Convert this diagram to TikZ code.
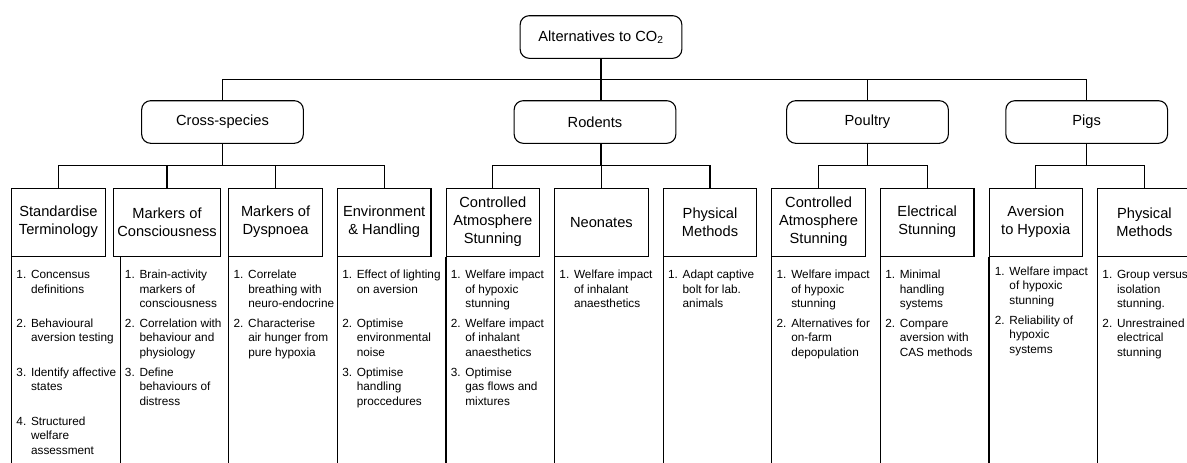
\documentclass[tikz,border=0pt]{standalone}
\usepackage{fontspec}
\setmainfont{Liberation Sans}
\usepackage{tikz}
\usetikzlibrary{calc}

\newcommand{\headfont}{\fontsize{14.65}{18}\selectfont}
\newcommand{\itemfont}{\fontsize{11.8}{14.7}\selectfont}
\newcommand{\itemtxt}[2]{\makebox[14.6pt][l]{#1}\begin{tabular}[t]{@{}l@{}}#2\end{tabular}}

\begin{document}
\begin{tikzpicture}[x=1pt, y=-1pt, line width=1.1pt,
species/.style={draw, rounded corners=9pt, minimum width=161.7pt, minimum height=42.6pt, font=\headfont},
topic/.style={draw, minimum width=93.5pt, minimum height=67.7pt, align=center, inner sep=1pt, font=\headfont},
entry/.style={anchor=base west, inner sep=0pt, font=\itemfont},
elbow/.style={to path={|- ($(\tikztostart)!.5!(\tikztotarget)$) -| (\tikztotarget)}},
]
\useasboundingbox (0,0) rectangle (1187,463);
\clip (0,0) rectangle (1187,463);

\node[species] (root) at (601,37) {Alternatives to CO\textsubscript{2}};

\node[species] (s1) at (222.5,122) {Cross-species};
\node[species] (s2) at (595,122) {Rodents};
\node[species] (s3) at (867.5,122) {Poultry};
\node[species] (s4) at (1086.7,122) {Pigs};

\node[topic] (t1) at (58.4,222.2) {Standardise\\Terminology};
\node[topic, minimum width=106.7pt] (t2) at (167,222.2) {Markers of\\Consciousness};
\node[topic] (t3) at (275.6,222.2) {Markers of\\Dyspnoea};
\node[topic] (t4) at (384.2,222.2) {Environment\\\& Handling};
\node[topic] (t5) at (492.8,222.2) {Controlled\\Atmosphere\\Stunning};
\node[topic] (t6) at (601.4,222.2) {Neonates};
\node[topic] (t7) at (710,222.2) {Physical\\Methods};
\node[topic] (t8) at (818.6,222.2) {Controlled\\Atmosphere\\Stunning};
\node[topic] (t9) at (927.2,222.2) {Electrical\\Stunning};
\node[topic] (t10) at (1035.8,222.2) {Aversion\\to Hypoxia};
\node[topic] (t11) at (1144.4,222.2) {Physical\\Methods};

\path
(root.south) edge[elbow] (s1.north)
(root.south) edge (root.south |- s2.north)
(root.south) edge[elbow] (s3.north)
(root.south) edge[elbow] (s4.north)
(s1.south) edge[elbow] (t1.north)
(s1.south) edge[elbow] (t2.north)
(s1.south) edge[elbow] (t3.north)
(s1.south) edge[elbow] (t4.north)
(s2.south -| root.south) edge[elbow] (t5.north)
(s2.south -| root.south) edge[elbow] (t6.north)
(s2.south -| root.south) edge[elbow] (t7.north)
(s3.south) edge[elbow] (t8.north)
(s3.south) edge[elbow] (t9.north)
(s4.south) edge[elbow] (t10.north)
(s4.south) edge[elbow] (t11.north)
;

% left rules under the topic boxes
\foreach \n/\x in {1/11.7, 2/120.2, 3/228.9, 4/337.5, 5/446, 6/554.7, 7/663.3, 8/771.9, 9/880.5, 10/989, 11/1097.7}{
  \coordinate (l\n) at (\x,463);
  \draw (t\n.south -| l\n) -- (l\n);
}

\node[entry] (e11) at (15.9,278.3) {\itemtxt{1.}{Concensus\\definitions}};
\node[entry] (e12) at (15.9,327.2) {\itemtxt{2.}{Behavioural\\aversion testing}};
\node[entry] (e13) at (15.9,376.1) {\itemtxt{3.}{Identify affective\\states}};
\node[entry] (e14) at (15.9,425) {\itemtxt{4.}{Structured\\welfare\\assessment}};

\node[entry] (e21) at (124.4,278.3) {\itemtxt{1.}{Brain-activity\\markers of\\consciousness}};
\node[entry] (e22) at (124.4,327.2) {\itemtxt{2.}{Correlation with\\behaviour and\\physiology}};
\node[entry] (e23) at (124.4,376.1) {\itemtxt{3.}{Define\\behaviours of\\distress}};

\node[entry] (e31) at (233.1,278.3) {\itemtxt{1.}{Correlate\\breathing with\\neuro-endocrine}};
\node[entry] (e32) at (233.1,327.2) {\itemtxt{2.}{Characterise\\air hunger from\\pure hypoxia}};

\node[entry] (e41) at (341.7,278.3) {\itemtxt{1.}{Effect of lighting\\on aversion}};
\node[entry] (e42) at (341.7,327.2) {\itemtxt{2.}{Optimise\\environmental\\noise}};
\node[entry] (e43) at (341.7,376.1) {\itemtxt{3.}{Optimise\\handling\\proccedures}};

\node[entry] (e51) at (450.2,278.3) {\itemtxt{1.}{Welfare impact\\of hypoxic\\stunning}};
\node[entry] (e52) at (450.2,327.2) {\itemtxt{2.}{Welfare impact\\of inhalant\\anaesthetics}};
\node[entry] (e53) at (450.2,376.1) {\itemtxt{3.}{Optimise\\gas flows and\\mixtures}};

\node[entry] (e61) at (558.9,278.3) {\itemtxt{1.}{Welfare impact\\of inhalant\\anaesthetics}};

\node[entry] (e71) at (667.5,278.3) {\itemtxt{1.}{Adapt captive\\bolt for lab.\\animals}};

\node[entry] (e81) at (776.1,278.3) {\itemtxt{1.}{Welfare impact\\of hypoxic\\stunning}};
\node[entry] (e82) at (776.1,327.2) {\itemtxt{2.}{Alternatives for\\on-farm\\depopulation}};

\node[entry] (e91) at (884.7,278.3) {\itemtxt{1.}{Minimal\\handling\\systems}};
\node[entry] (e92) at (884.7,327.2) {\itemtxt{2.}{Compare\\aversion with\\CAS methods}};

\node[entry] (e101) at (994.3,275) {\itemtxt{1.}{Welfare impact\\of hypoxic\\stunning}};
\node[entry] (e102) at (994.3,324) {\itemtxt{2.}{Reliability of\\hypoxic\\systems}};

\node[entry] (e111) at (1101.9,278.3) {\itemtxt{1.}{Group versus\\isolation\\stunning.}};
\node[entry] (e112) at (1101.9,327.2) {\itemtxt{2.}{Unrestrained\\electrical\\stunning}};
\end{tikzpicture}
\end{document}
